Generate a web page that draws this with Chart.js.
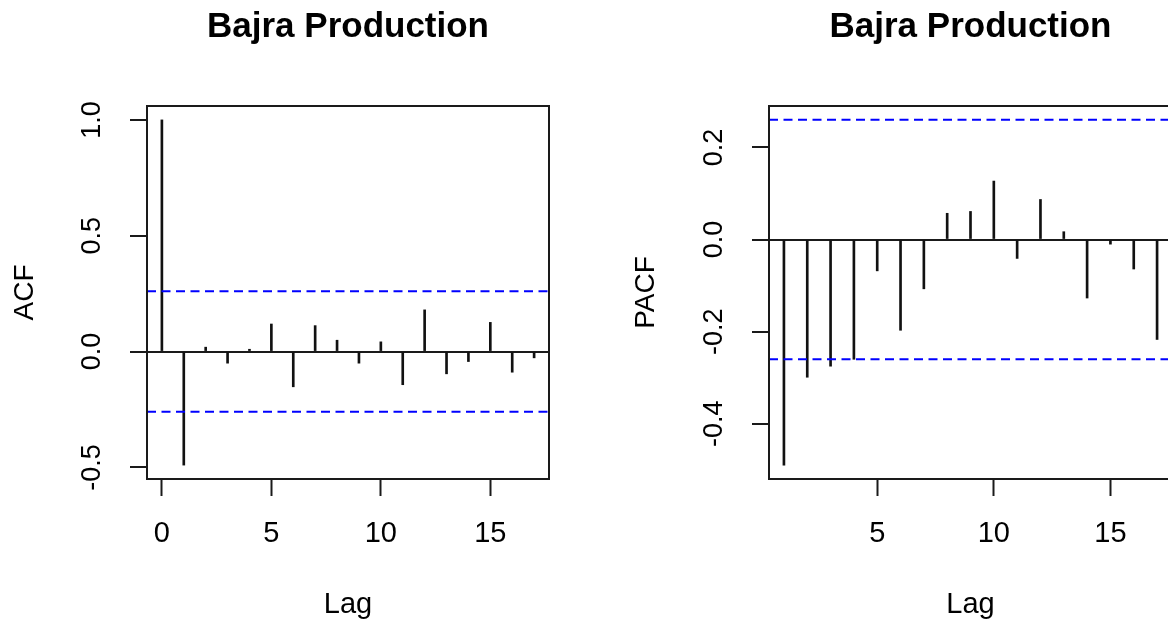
<!DOCTYPE html>
<html>
<head>
<meta charset="utf-8">
<script src="https://cdn.jsdelivr.net/npm/chart.js@4.4.1/dist/chart.umd.min.js"></script>
<style>
  html, body { margin: 0; padding: 0; background: #fff; overflow: hidden; }
  #wrap { position: relative; width: 1168px; height: 622px; overflow: hidden; }
  #acfChart { position: absolute; left: 0; top: 0; }
  #pacfChart { position: absolute; left: 584px; top: 0; }
</style>
</head>
<body>
<div id="wrap">
  <canvas id="acfChart" width="584" height="622"></canvas>
  <canvas id="pacfChart" width="600" height="622"></canvas>
</div>
<script>
// ACF panel (lags 0..17)
const acfLags = [0, 1, 2, 3, 4, 5, 6, 7, 8, 9, 10, 11, 12, 13, 14, 15, 16, 17];
const acfValues = [1.0, -0.49, 0.019, -0.05, 0.01, 0.119, -0.152, 0.112, 0.049, -0.05,
                   0.042, -0.143, 0.18, -0.096, -0.043, 0.126, -0.089, -0.027];
const acfXTicks = [0, 5, 10, 15];
const acfYTicks = [-0.5, 0, 0.5, 1.0];

// PACF panel (lags 1..17)
const pacfLags = [1, 2, 3, 4, 5, 6, 7, 8, 9, 10, 11, 12, 13, 14, 15, 16, 17];
const pacfValues = [-0.49, -0.299, -0.275, -0.26, -0.068, -0.197, -0.107, 0.057, 0.061,
                    0.127, -0.041, 0.087, 0.017, -0.127, -0.01, -0.064, -0.217];
const pacfXTicks = [5, 10, 15];
const pacfYTicks = [-0.4, -0.2, 0, 0.2];

const ciLimit = 0.26;
const titleText = 'Bajra Production';

const FONT = "'Liberation Sans', Arial, sans-serif";
Chart.defaults.font.family = FONT;
Chart.defaults.color = '#000';

// box round the plot + rotated y tick labels (R style)
const rFrame = {
  id: 'rFrame',
  afterDraw(chart, args, opts) {
    const { ctx, chartArea: a, scales } = chart;
    ctx.save();
    ctx.strokeStyle = '#1a1a1a';
    ctx.lineWidth = 2;
    ctx.strokeRect(a.left, a.top, a.right - a.left, a.bottom - a.top);

    ctx.fillStyle = '#000';
    ctx.font = '27px ' + FONT;
    ctx.textAlign = 'center';
    ctx.textBaseline = 'middle';
    scales.y.ticks.forEach(t => {
      const y = scales.y.getPixelForValue(t.value);
      ctx.save();
      ctx.translate(a.left - opts.labelGap, y);
      ctx.rotate(-Math.PI / 2);
      ctx.fillText(t.value.toFixed(1), 0, 0);
      ctx.restore();
    });
    ctx.restore();
  }
};

function makePanel(id, p) {
  const xMin = p.xMin, xMax = p.xMax;
  return new Chart(document.getElementById(id), {
    type: 'bar',
    data: {
      datasets: [
        {
          type: 'line',
          data: [{ x: xMin, y: ciLimit }, { x: xMax, y: ciLimit }],
          borderColor: '#0000ff',
          borderWidth: 2,
          borderDash: [9, 5.5],
          pointRadius: 0
        },
        {
          type: 'line',
          data: [{ x: xMin, y: -ciLimit }, { x: xMax, y: -ciLimit }],
          borderColor: '#0000ff',
          borderWidth: 2,
          borderDash: [9, 5.5],
          pointRadius: 0
        },
        {
          type: 'bar',
          data: p.lags.map((l, i) => ({ x: l, y: p.values[i] })),
          backgroundColor: '#111',
          barThickness: 2
        }
      ]
    },
    options: {
      responsive: false,
      animation: false,
      devicePixelRatio: 1,
      layout: { padding: { left: 0, right: p.padRight, top: 0, bottom: 0 } },
      plugins: {
        legend: { display: false },
        tooltip: { enabled: false },
        title: {
          display: true,
          text: titleText,
          fullSize: false,
          font: { size: 35, weight: 'bold', family: FONT },
          color: '#000',
          padding: { top: 6, bottom: 58 }
        },
        rFrame: { labelGap: 54 }
      },
      scales: {
        x: {
          type: 'linear',
          min: xMin,
          max: xMax,
          offset: false,
          afterBuildTicks: s => { s.ticks = p.xTicks.map(v => ({ value: v })); },
          afterFit: s => { s.height = 143; },
          ticks: { autoSkip: false, padding: 21, font: { size: 29 }, color: '#000' },
          grid: { drawOnChartArea: false, offset: false, drawTicks: true, tickLength: 17, tickWidth: 2, tickColor: '#1a1a1a' },
          border: { display: false },
          title: { display: true, text: 'Lag', font: { size: 29 }, color: '#000', padding: { top: 0, bottom: 0 } }
        },
        y: {
          min: p.yMin,
          max: p.yMax,
          afterBuildTicks: s => { s.ticks = p.yTicks.map(v => ({ value: v })); },
          afterFit: s => { s.width = p.yWidth; },
          ticks: { display: false },
          grid: {
            drawOnChartArea: true,
            drawTicks: true,
            tickLength: 17,
            tickWidth: 2,
            tickColor: '#1a1a1a',
            lineWidth: 2,
            color: c => (c.tick && c.tick.value === 0 ? '#1a1a1a' : 'rgba(0,0,0,0)')
          },
          border: { display: false },
          title: { display: true, text: p.yTitle, font: { size: 28 }, color: '#000', padding: { top: p.yTitlePad, bottom: 0 } }
        }
      }
    },
    plugins: [rFrame]
  });
}

makePanel('acfChart', {
  lags: acfLags, values: acfValues, xTicks: acfXTicks, yTicks: acfYTicks,
  xMin: -0.68, xMax: 17.68, yMin: -0.55, yMax: 1.06,
  yTitle: 'ACF', yTitlePad: 8, yWidth: 147, padRight: 35
});

makePanel('pacfChart', {
  lags: pacfLags, values: pacfValues, xTicks: pacfXTicks, yTicks: pacfYTicks,
  xMin: 0.36, xMax: 17.64, yMin: -0.52, yMax: 0.29,
  yTitle: 'PACF', yTitlePad: 45, yWidth: 185, padRight: 12
});
</script>
</body>
</html>
